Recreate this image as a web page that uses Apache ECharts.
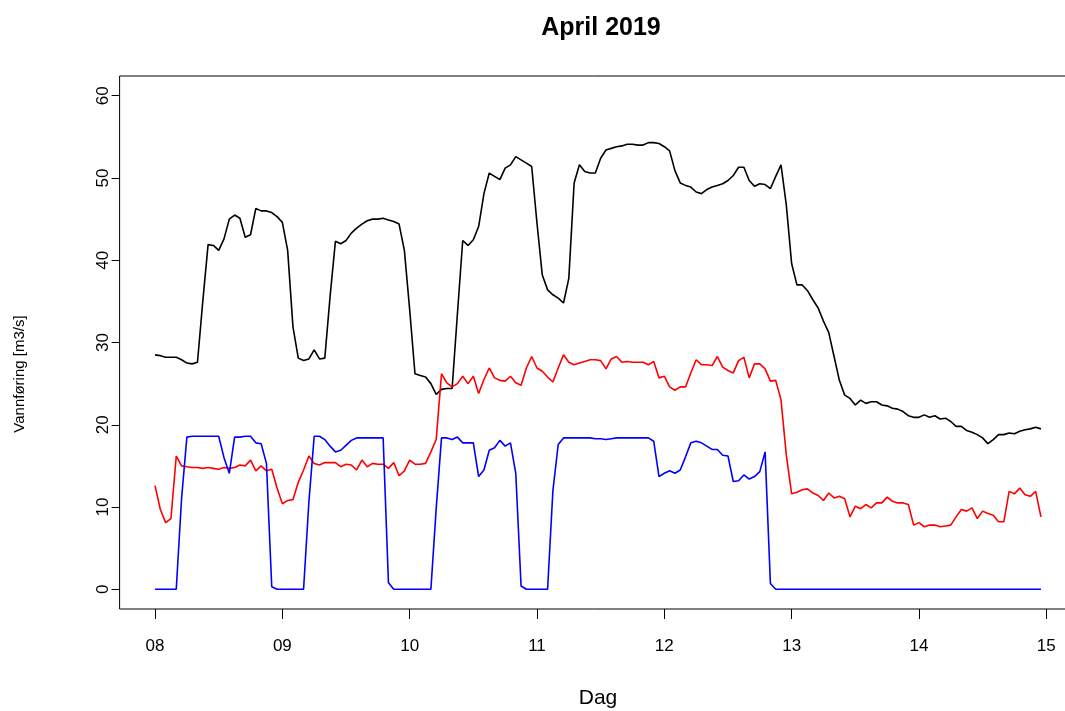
<!DOCTYPE html>
<html>
<head>
<meta charset="utf-8">
<script src="https://cdn.jsdelivr.net/npm/echarts@6/dist/echarts.min.js"></script>
<style>
  html, body { margin: 0; padding: 0; background: #ffffff; }
  #chart { width: 1065px; height: 711px; }
</style>
</head>
<body>
<div id="chart"></div>
<script>
// Day-of-month tick labels (one tick per 24 hourly readings)
const dayLabels = ['08', '09', '10', '11', '12', '13', '14', '15'];
const yTicks = [0, 10, 20, 30, 40, 50, 60];

// Hourly discharge, 08 April 00:00 through 14 April 23:00 (m3/s)
const totalFlow = [
  28.5, 28.4, 28.2, 28.2, 28.2, 27.9, 27.5, 27.4, 27.6, 35.0, 41.9, 41.8, 41.2, 42.6, 45.0, 45.5, 45.1, 42.8, 43.1, 46.3, 46.0, 46.0, 45.8, 45.3,
  44.6, 41.2, 31.9, 28.1, 27.8, 28.0, 29.1, 28.0, 28.1, 35.6, 42.3, 42.0, 42.4, 43.3, 43.9, 44.4, 44.8, 45.0, 45.0, 45.1, 44.9, 44.7, 44.4, 41.2,
  34.0, 26.2, 26.0, 25.8, 25.0, 23.7, 24.3, 24.4, 24.4, 33.5, 42.4, 41.8, 42.5, 44.1, 48.1, 50.6, 50.2, 49.8, 51.2, 51.6, 52.6, 52.2, 51.8, 51.4,
  44.5, 38.2, 36.4, 35.8, 35.4, 34.8, 37.8, 49.4, 51.6, 50.8, 50.6, 50.6, 52.4, 53.4, 53.6, 53.8, 53.9, 54.1, 54.1, 54.0, 54.0, 54.3, 54.3, 54.2,
  53.8, 53.3, 50.9, 49.4, 49.1, 48.9, 48.3, 48.1, 48.6, 48.9, 49.1, 49.3, 49.7, 50.3, 51.3, 51.3, 49.7, 49.0, 49.3, 49.2, 48.7, 50.2, 51.6, 46.7,
  39.6, 37.0, 37.0, 36.3, 35.2, 34.2, 32.6, 31.2, 28.3, 25.4, 23.6, 23.2, 22.4, 23.0, 22.6, 22.8, 22.8, 22.4, 22.3, 22.0, 21.9, 21.6, 21.1, 20.9,
  20.9, 21.2, 20.9, 21.1, 20.7, 20.8, 20.4, 19.8, 19.8, 19.3, 19.1, 18.8, 18.4, 17.7, 18.2, 18.8, 18.8, 19.0, 18.9, 19.2, 19.4, 19.5, 19.7, 19.5
];

const redFlow = [
  12.6, 9.7, 8.1, 8.6, 16.2, 15.0, 14.9, 14.8, 14.8, 14.7, 14.8, 14.7, 14.6, 14.8, 14.7, 14.8, 15.1, 15.0, 15.7, 14.4, 15.0, 14.4, 14.6, 12.3,
  10.4, 10.8, 10.9, 13.0, 14.5, 16.2, 15.3, 15.1, 15.4, 15.4, 15.4, 14.9, 15.2, 15.1, 14.5, 15.7, 14.9, 15.3, 15.2, 15.2, 14.7, 15.4, 13.8, 14.4,
  15.7, 15.2, 15.2, 15.3, 16.7, 18.2, 26.2, 25.1, 24.6, 25.0, 25.9, 25.0, 25.9, 23.8, 25.5, 26.9, 25.7, 25.4, 25.3, 25.9, 25.1, 24.8, 26.9, 28.3,
  26.9, 26.5, 25.8, 25.2, 26.9, 28.5, 27.6, 27.3, 27.5, 27.7, 27.9, 27.9, 27.8, 26.8, 28.0, 28.3, 27.6, 27.7, 27.6, 27.6, 27.6, 27.3, 27.7, 25.7,
  25.9, 24.6, 24.2, 24.6, 24.6, 26.3, 27.9, 27.3, 27.3, 27.2, 28.3, 27.0, 26.6, 26.3, 27.8, 28.2, 25.7, 27.4, 27.4, 26.8, 25.3, 25.4, 23.0, 16.3,
  11.6, 11.8, 12.1, 12.2, 11.7, 11.4, 10.8, 11.7, 11.1, 11.3, 11.0, 8.8, 10.1, 9.8, 10.3, 9.9, 10.5, 10.5, 11.2, 10.7, 10.5, 10.5, 10.3, 7.8,
  8.1, 7.6, 7.8, 7.8, 7.6, 7.7, 7.8, 8.8, 9.7, 9.5, 9.9, 8.6, 9.5, 9.2, 9.0, 8.2, 8.2, 11.9, 11.6, 12.3, 11.5, 11.3, 11.9, 8.8
];

const blueFlow = [
  0, 0, 0, 0, 0, 11.0, 18.5, 18.6, 18.6, 18.6, 18.6, 18.6, 18.6, 16.0, 14.1, 18.5, 18.5, 18.6, 18.6, 17.8, 17.7, 15.3, 0.3, 0,
  0, 0, 0, 0, 0, 10.6, 18.6, 18.6, 18.2, 17.4, 16.7, 16.9, 17.5, 18.1, 18.4, 18.4, 18.4, 18.4, 18.4, 18.4, 0.8, 0, 0, 0,
  0, 0, 0, 0, 0, 9.8, 18.4, 18.4, 18.2, 18.5, 17.8, 17.8, 17.8, 13.7, 14.5, 16.9, 17.2, 18.1, 17.4, 17.8, 14.1, 0.4, 0, 0,
  0, 0, 0, 12.0, 17.6, 18.4, 18.4, 18.4, 18.4, 18.4, 18.4, 18.3, 18.3, 18.2, 18.3, 18.4, 18.4, 18.4, 18.4, 18.4, 18.4, 18.4, 18.0, 13.7,
  14.1, 14.4, 14.1, 14.5, 16.1, 17.8, 18.0, 17.8, 17.4, 17.0, 17.0, 16.3, 16.2, 13.1, 13.2, 13.9, 13.4, 13.7, 14.3, 16.7, 0.7, 0, 0, 0,
  0, 0, 0, 0, 0, 0, 0, 0, 0, 0, 0, 0, 0, 0, 0, 0, 0, 0, 0, 0, 0, 0, 0, 0,
  0, 0, 0, 0, 0, 0, 0, 0, 0, 0, 0, 0, 0, 0, 0, 0, 0, 0, 0, 0, 0, 0, 0, 0
];

const HOURS_PER_DAY = 24;
const xTicks = dayLabels.map((_, i) => i * HOURS_PER_DAY);
const toPairs = arr => arr.map((v, i) => [i, v]);

// Plot range padded by 4% on each side, like base R graphics
const lastHour = totalFlow.length - 1;
const xPad = lastHour * 0.04;
const yLo = yTicks[0], yHi = yTicks[yTicks.length - 1];
const yPad = (yHi - yLo) * 0.04;

const FONT = 'Liberation Sans, Arial, sans-serif';

const chart = echarts.init(document.getElementById('chart'), null, { renderer: 'canvas' });

const lineSeries = (data, color) => ({
  type: 'line',
  data: toPairs(data),
  showSymbol: false,
  symbol: 'none',
  silent: true,
  lineStyle: { color: color, width: 1.6 },
  itemStyle: { color: color }
});

chart.setOption({
  animation: false,
  backgroundColor: '#ffffff',
  title: {
    text: 'April 2019',
    left: 596,
    top: 11,
    textAlign: 'center',
    textStyle: { fontFamily: FONT, fontWeight: 'bold', fontSize: 25, color: '#000000' }
  },
  grid: {
    left: 119.6,
    top: 76,
    width: 956.8,
    height: 533,
    show: true,
    borderColor: '#000000',
    borderWidth: 1,
    outerBoundsMode: 'none'
  },
  // y-axis title, set a little below the plot's vertical centre
  graphic: [{
    type: 'text',
    x: 20,
    y: 374,
    rotation: Math.PI / 2,
    style: {
      text: 'Vannføring [m3/s]',
      fontFamily: FONT,
      fontSize: 15,
      fill: '#000000',
      align: 'center',
      verticalAlign: 'middle'
    }
  }],
  xAxis: {
    type: 'value',
    min: -xPad,
    max: lastHour + xPad,
    axisLine: { show: false, onZero: false },
    splitLine: { show: false },
    axisTick: {
      show: true,
      customValues: xTicks,
      length: 10,
      lineStyle: { color: '#000000', width: 1 }
    },
    axisLabel: {
      customValues: xTicks,
      formatter: v => dayLabels[Math.round(v / HOURS_PER_DAY)],
      fontFamily: FONT,
      fontSize: 17,
      color: '#000000',
      margin: 29
    },
    name: 'Dag',
    nameLocation: 'middle',
    nameGap: 79,
    nameTextStyle: { fontFamily: FONT, fontSize: 21, color: '#000000' }
  },
  yAxis: {
    type: 'value',
    min: yLo - yPad,
    max: yHi + yPad,
    axisLine: { show: false, onZero: false },
    splitLine: { show: false },
    axisTick: {
      show: true,
      customValues: yTicks,
      length: 8,
      lineStyle: { color: '#000000', width: 1 }
    },
    axisLabel: {
      customValues: yTicks,
      rotate: 90,
      fontFamily: FONT,
      fontSize: 17,
      color: '#000000',
      margin: 8
    }
  },
  series: [
    lineSeries(totalFlow, '#000000'),
    lineSeries(redFlow, '#ff0000'),
    lineSeries(blueFlow, '#0000ff')
  ]
});
</script>
</body>
</html>
